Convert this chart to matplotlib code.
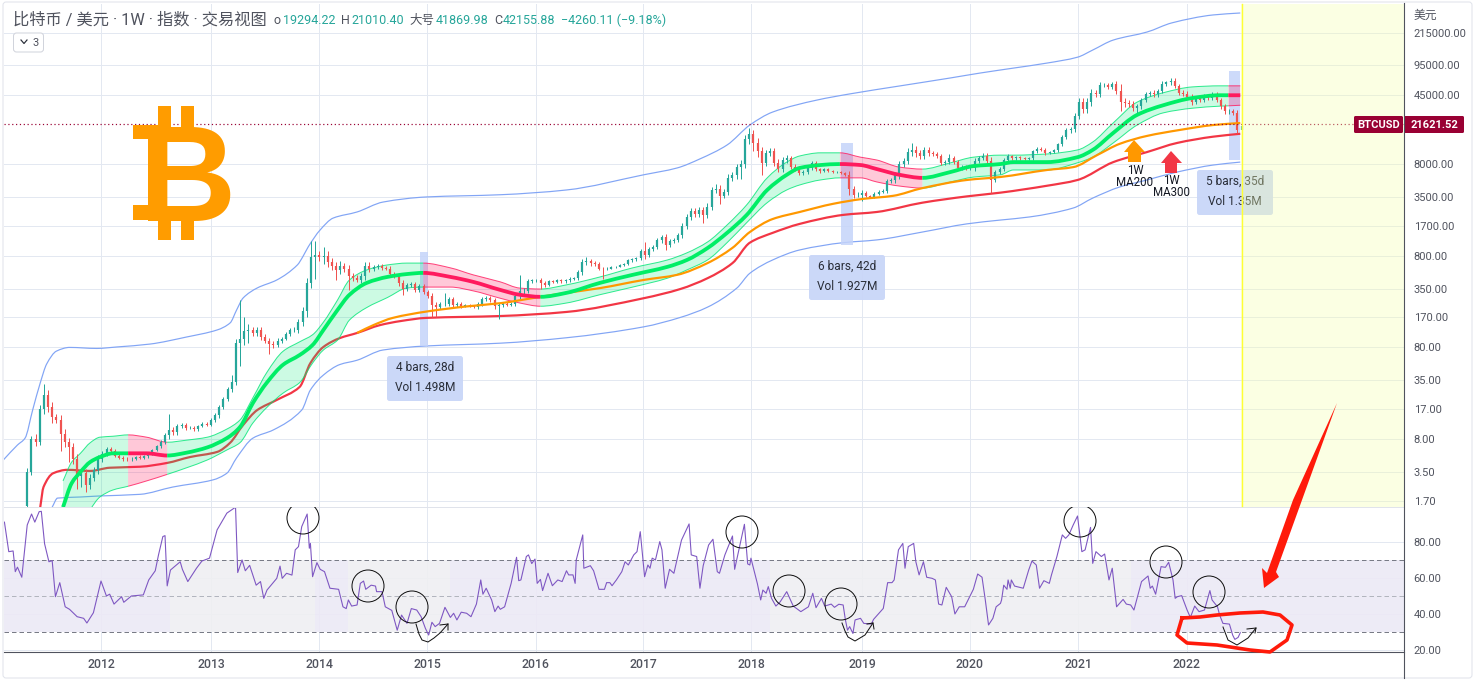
import numpy as np
import matplotlib
matplotlib.use("Agg")
import matplotlib.pyplot as plt
from matplotlib.patches import Rectangle, Polygon, Circle, FancyBboxPatch, PathPatch
from matplotlib.path import Path
from matplotlib.ticker import NullLocator

# ---------- data: candles, one every two weeks from 2011.32 ----------
candle_start = 2011.32
candle_step = 1 / 26
close_2011 = [3.5, 8, 7.5, 17, 24, 18, 14, 13, 9, 7.5, 6.5, 4.8, 3.2, 3.4, 2.5, 3, 3.7, 4.9]
close_2012 = [5.5, 6.2, 6.0, 5.3, 5.0, 4.9, 4.8, 4.9, 5.1, 5.0, 5.2, 5.6, 6.1, 6.7, 7.5, 8.8, 10, 9.5, 11, 11.5, 10.5, 10.7, 10.2, 11.2, 11.8, 11.5]
close_2013 = [13, 14.5, 18, 22, 28, 34, 90, 100, 120, 125, 115, 125, 105, 95, 88, 85, 95, 100, 112, 125, 125, 150, 200, 400, 780, 820]
close_2014 = [780, 800, 680, 620, 560, 620, 580, 480, 460, 440, 480, 620, 580, 600, 620, 590, 580, 510, 480, 400, 350, 380, 390, 340, 370, 320]
close_2015 = [290, 230, 220, 240, 240, 270, 230, 240, 225, 230, 225, 220, 240, 270, 280, 260, 225, 230, 240, 235, 240, 290, 330, 330, 420, 430]
close_2016 = [430, 400, 385, 420, 415, 430, 420, 430, 450, 460, 530, 680, 700, 660, 650, 580, 570, 580, 600, 610, 640, 650, 710, 730, 760, 900]
close_2017 = [820, 950, 1000, 1180, 1270, 1050, 1150, 1200, 1350, 1700, 2100, 2450, 2300, 2500, 2250, 2700, 4200, 4300, 3600, 4000, 5700, 6000, 7400, 8000, 15000, 17000]
close_2018 = [13500, 11000, 8200, 10500, 11000, 8300, 7000, 8900, 9300, 7500, 7100, 6400, 6500, 7300, 8200, 7000, 6700, 7000, 6700, 6500, 6600, 6400, 6100, 4300, 3700, 3700]
close_2019 = [3900, 3600, 3500, 3800, 4000, 4100, 5200, 5300, 6000, 8000, 8700, 10800, 11500, 10500, 9800, 11500, 10500, 10200, 9700, 8200, 8400, 9300, 8400, 7300, 7500, 7200]
close_2020 = [7200, 8700, 9300, 9900, 8600, 5400, 6500, 7100, 8800, 9700, 9300, 9500, 9200, 9100, 9300, 11000, 11800, 11500, 10500, 10800, 11300, 13200, 15700, 18700, 19200, 27000]
close_2021 = [38000, 32000, 38000, 48000, 47000, 58000, 58000, 56000, 59000, 50000, 38000, 37000, 36000, 33000, 34000, 40000, 46000, 48000, 46000, 50000, 60000, 62000, 65000, 57000, 48000, 47000]
close_2022 = [43000, 38000, 42000, 40000, 44000, 42000, 46000, 40000, 34000, 30000, 30000, 29000, 19000, 21000]
first_open = 1.5
# usual wick length of each candle, percent beyond its body
wick_pct_2011 = [10, 8, 12, 10, 10, 15, 12, 8, 12, 15, 10, 12, 15, 10, 12, 10, 8, 10]
wick_pct_2012 = [8, 6, 6, 5, 4, 5, 4, 3, 3, 4, 3, 4, 3, 3, 5, 6, 10, 8, 6, 5, 4, 3, 3, 3, 4, 4]
wick_pct_2013 = [4, 5, 6, 6, 6, 8, 10, 12, 10, 10, 8, 8, 8, 6, 8, 8, 6, 5, 5, 5, 6, 8, 10, 15, 12, 12]
wick_pct_2014 = [10, 10, 12, 10, 10, 12, 8, 10, 8, 6, 8, 10, 8, 6, 5, 5, 4, 6, 5, 6, 8, 6, 5, 6, 5, 5]
wick_pct_2015 = [6, 8, 8, 5, 5, 6, 5, 4, 4, 3, 3, 3, 4, 5, 5, 4, 6, 5, 3, 3, 4, 6, 10, 7, 6, 5]
wick_pct_2016 = [5, 6, 5, 4, 3, 3, 3, 3, 3, 3, 6, 8, 7, 6, 5, 5, 5, 3, 2, 2, 2, 3, 3, 3, 3, 5]
wick_pct_2017 = [10, 5, 5, 6, 6, 8, 5, 5, 6, 8, 8, 8, 8, 8, 10, 10, 8, 8, 10, 6, 8, 8, 8, 12, 10, 12]
wick_pct_2018 = [10, 15, 12, 8, 8, 10, 8, 8, 8, 6, 6, 6, 5, 5, 6, 4, 4, 3, 3, 3, 3, 2, 3, 10, 8, 6]
wick_pct_2019 = [4, 3, 3, 3, 3, 3, 6, 5, 6, 8, 8, 10, 10, 10, 8, 8, 6, 5, 5, 5, 5, 5, 5, 6, 5, 5]
wick_pct_2020 = [4, 6, 5, 5, 6, 12, 7, 5, 6, 6, 4, 4, 3, 3, 3, 4, 3, 3, 4, 3, 3, 4, 5, 5, 6, 8]
wick_pct_2021 = [10, 10, 10, 10, 8, 8, 6, 6, 6, 8, 10, 10, 8, 8, 6, 6, 5, 5, 6, 6, 6, 5, 6, 6, 6, 6]
wick_pct_2022 = [6, 8, 5, 5, 5, 6, 5, 5, 6, 6, 6, 6, 8, 6]
# candles whose wicks stand out, by candle number
wick_high = {0: 3.6, 1: 8.5, 2: 9, 3: 19, 4: 32, 5: 24, 6: 17, 7: 15, 8: 13, 9: 9, 10: 8, 11: 7, 12: 5,
             34: 15, 49: 40, 51: 266, 52: 170, 53: 145, 68: 1150, 69: 1170, 71: 1000, 82: 680,
             97: 300, 100: 310, 118: 490, 134: 780, 148: 1130, 152: 1340, 165: 4900, 170: 7800, 173: 20000,
             174: 19000, 178: 11700, 182: 10000, 200: 4200, 212: 13700, 221: 10400, 229: 10500, 231: 9200,
             252: 42000, 262: 60000, 290: 30000}
wick_low = {0: 1.4, 1: 3.3, 3: 7, 4: 15, 6: 12, 8: 6, 10: 4.5, 12: 2.3, 13: 2.4, 14: 2.1, 34: 8,
            50: 47, 51: 50, 52: 85, 53: 90, 58: 67, 68: 380, 69: 450, 71: 650, 74: 430, 77: 340, 90: 300,
            97: 170, 98: 170, 113: 165, 123: 350, 138: 450, 148: 750, 153: 930, 162: 1800, 166: 2900, 171: 5500,
            174: 11000, 176: 6000, 180: 6500, 197: 3700, 200: 3200, 231: 3850, 252: 28000, 262: 30000, 266: 29000,
            290: 17600}

# ---------- data: moving average and its band ----------
band_years = [2011.65, 2011.73, 2011.81, 2011.90, 2011.99, 2012.11, 2012.25, 2012.42, 2012.61, 2012.79, 2012.98,
              2013.16, 2013.28, 2013.40, 2013.53, 2013.68, 2013.83, 2013.95, 2014.05, 2014.18, 2014.29, 2014.45,
              2014.64, 2014.82, 2014.97, 2015.22, 2015.43, 2015.68, 2015.86, 2016.05, 2016.29, 2016.60, 2016.90,
              2017.22, 2017.40, 2017.59, 2017.77, 2017.95, 2018.14, 2018.32, 2018.44, 2018.63, 2018.81, 2019.00,
              2019.15, 2019.36, 2019.57, 2019.83, 2020.04, 2020.29, 2020.41, 2020.72, 2021.00, 2021.14, 2021.33,
              2021.55, 2021.79, 2022.06, 2022.31, 2022.39, 2022.50]
ma_center = [1.45, 2.65, 3.5, 4.5, 5.1, 5.6, 5.6, 5.6, 5.3, 5.7, 6.5, 8.2, 10.8, 19.8, 33.2, 52, 66, 85, 124, 205, 300,
             405, 470, 505, 520, 470, 415, 339, 300, 285, 315, 405, 495, 605, 719, 970, 1420, 2220, 4170, 6100, 7250,
             7800, 8000, 7800, 7050, 6100, 5650, 6550, 7600, 8000, 8400, 8400, 9500, 11400, 17500, 27500, 35000, 42000,
             45000, 45000, 45000]
ma_upper = [2.8, 4.5, 5.6, 7.3, 8.4, 8.6, 8.9, 8.4, 7.4, 7.8, 8.4, 10.3, 12.9, 22.6, 43, 73, 92, 110, 151, 263, 435,
            560, 635, 665, 665, 590, 495, 415, 355, 347, 385, 470, 590, 719, 860, 1130, 1730, 2860, 5650, 8400, 9800,
            10600, 10600, 9500, 8850, 7400, 7050, 8250, 9500, 10000, 10000, 10300, 11400, 13900, 22500, 37900, 47900,
            55500, 57000, 57000, 57000]
ma_lower = [0.4, 0.56, 0.8, 1.35, 1.87, 2.23, 2.45, 2.8, 3.3, 3.9, 4.74, 6.09, 7.3, 12, 17.8, 25.5, 33, 54, 75, 96, 159,
            218, 280, 355, 364, 364, 331, 275, 244, 225, 244, 301, 364, 455, 560, 719, 1110, 1830, 3030, 4170, 4730,
            5360, 5650, 5650, 5100, 4600, 4370, 5100, 5760, 6100, 6890, 6890, 8250, 9500, 13600, 21300, 28900, 32500,
            34200, 34500, 35000]
bear_edges = [2012.25, 2012.61, 2014.97, 2016.05, 2018.81, 2019.57, 2022.39]

# ---------- data: long moving averages and outer envelopes ----------
ma200_years = [2014.36, 2014.51, 2014.69, 2015.00, 2015.37, 2015.68, 2016.05, 2016.29, 2016.60, 2017.00, 2017.31, 2017.59,
               2017.82, 2017.98, 2018.19, 2018.44, 2018.75, 2019.02, 2019.30, 2019.57, 2019.98, 2020.29, 2020.72, 2020.96,
               2021.18, 2021.39, 2021.64, 2021.94, 2022.25, 2022.50]
ma200_vals = [115, 140, 168, 197, 224, 243, 285, 315, 355, 435, 495, 665, 975, 1450, 2010, 2400, 2950, 3330, 3600, 4370,
              5360, 5780, 6890, 7400, 10000, 13300, 16200, 18800, 21300, 22400]
ma300_years = [2011.44, 2011.47, 2011.56, 2011.69, 2011.90, 2012.08, 2012.36, 2012.61, 2012.82, 2013.07, 2013.19, 2013.31,
               2013.44, 2013.62, 2013.83, 2013.93, 2014.05, 2014.20, 2014.36, 2014.57, 2014.76, 2015.00, 2015.68, 2016.29,
               2017.00, 2017.34, 2017.59, 2017.82, 2017.98, 2018.19, 2018.44, 2018.84, 2019.15, 2019.57, 2019.98, 2020.29,
               2020.72, 2021.00, 2021.33, 2021.64, 2021.92, 2022.25, 2022.50]
ma300_vals = [1.45, 2.4, 3.4, 3.7, 3.6, 3.9, 4.0, 4.4, 5.1, 5.8, 7.3, 11.4, 16.6, 21.4, 29.6, 54, 81, 101, 115, 140, 155,
              168, 176, 195, 275, 347, 455, 665, 1110, 1420, 1780, 2230, 2400, 3030, 3550, 3900, 4640, 5360, 8400, 10800,
              13600, 15900, 17100]
env_up_years = [2011.10, 2011.23, 2011.30, 2011.37, 2011.44, 2011.50, 2011.59, 2011.71, 2011.96, 2012.15, 2012.45, 2012.79,
                2013.07, 2013.19, 2013.25, 2013.31, 2013.44, 2013.62, 2013.81, 2013.86, 2013.91, 2014.02, 2014.14, 2014.36,
                2014.60, 2015.00, 2015.68, 2016.29, 2017.00, 2017.31, 2017.52, 2017.77, 2017.98, 2018.19, 2018.60, 2018.90,
                2019.36, 2019.83, 2020.10, 2020.41, 2020.72, 2021.00, 2021.14, 2021.33, 2021.64, 2021.87, 2022.25, 2022.50]
env_up_vals = [4.74, 6.9, 8.2, 16.6, 32.8, 53, 73, 80, 78, 81, 87, 104, 124, 148, 205, 277, 356, 435, 635, 780, 1000, 1530,
               2060, 2400, 3080, 3500, 3700, 4170, 6100, 7250, 9100, 12900, 21300, 29500, 39900, 46500, 56800, 69500, 78500,
               89000, 101000, 117000, 140000, 180000, 220000, 277000, 338000, 355000]
env_lo_years = [2011.55, 2011.60, 2011.81, 2011.99, 2012.36, 2012.66, 2013.03, 2013.16, 2013.25, 2013.40, 2013.59, 2013.85,
                2013.93, 2014.05, 2014.20, 2014.36, 2014.60, 2015.00, 2015.68, 2016.29, 2017.00, 2017.34, 2017.59, 2017.86,
                2017.98, 2018.19, 2018.44, 2018.84, 2019.15, 2019.57, 2019.98, 2020.29, 2020.56, 2020.96, 2021.14, 2021.39,
                2021.64, 2021.92, 2022.25, 2022.50]
env_lo_vals = [1.45, 1.82, 1.87, 1.92, 2.0, 2.4, 2.87, 3.4, 5.0, 8.2, 10.1, 16.6, 27.5, 40, 52, 58, 75, 83, 89, 102, 134, 170,
               220, 355, 515, 719, 925, 1110, 1190, 1450, 1780, 1960, 2120, 2650, 3400, 4500, 5360, 6550, 7800, 8400]

# ---------- data: RSI ----------
rsi_years_a = [2011.11, 2011.15, 2011.19, 2011.21, 2011.23, 2011.27, 2011.32, 2011.36, 2011.39, 2011.43, 2011.45, 2011.48, 2011.52, 2011.55, 2011.58, 2011.62, 2011.67, 2011.71, 2011.78, 2011.84, 2011.87, 2011.93, 2012.00, 2012.05, 2012.08, 2012.12, 2012.19, 2012.21, 2012.28, 2012.39, 2012.44, 2012.50, 2012.53, 2012.57, 2012.59, 2012.61, 2012.64, 2012.73, 2012.75, 2012.80, 2012.88, 2012.93, 2013.00, 2013.07, 2013.16, 2013.24, 2013.26, 2013.30, 2013.33, 2013.37, 2013.43, 2013.47, 2013.50, 2013.53, 2013.62, 2013.65, 2013.67, 2013.71, 2013.76, 2013.79, 2013.82, 2013.85, 2013.90, 2013.92, 2013.93, 2013.95, 2013.99, 2014.02, 2014.06, 2014.11, 2014.19, 2014.23, 2014.26, 2014.28, 2014.31, 2014.36, 2014.39, 2014.42, 2014.44, 2014.49, 2014.53, 2014.54, 2014.59, 2014.62, 2014.68, 2014.73, 2014.77, 2014.82, 2014.86, 2014.91, 2014.95, 2014.99, 2015.02, 2015.05, 2015.08, 2015.12, 2015.17, 2015.22, 2015.25, 2015.28, 2015.32, 2015.37, 2015.41, 2015.46, 2015.50, 2015.52, 2015.55, 2015.60, 2015.63, 2015.66]
rsi_vals_a = [91, 74.6, 75, 63.5, 66, 60.4, 89.4, 95.5, 91, 96.8, 97, 79, 69, 69.6, 49.6, 57.4, 44, 42.6, 38.5, 37.6, 35, 40.7, 58.3, 50, 51, 45.5, 49.6, 46.5, 50, 50.6, 58.9, 64, 72.8, 83, 83.5, 55.6, 64.4, 69, 64.8, 58, 65.4, 69.4, 71, 86.7, 96, 99.3, 63, 70, 64, 67, 56, 58, 48.7, 53.3, 59.8, 66.6, 59.8, 62.6, 61.6, 75.6, 77.4, 88.5, 95.5, 76.5, 79.2, 60.7, 68.5, 64.8, 63.5, 54.3, 53.7, 44, 43, 47.8, 44.4, 45, 57, 58.3, 53.7, 56, 55.5, 52.4, 52.4, 44, 42, 31, 39.4, 34.8, 43, 42.2, 38.5, 32, 28.3, 35.4, 33, 34.8, 43.7, 38.1, 40.4, 36.7, 41, 40.4, 38.5, 45.5, 58.9, 51, 54.3, 47.8, 41.3, 44.4]
rsi_years_b = [2015.68, 2015.72, 2015.78, 2015.83, 2015.85, 2015.87, 2015.92, 2015.94, 2015.97, 2016.00, 2016.02, 2016.05, 2016.07, 2016.12, 2016.16, 2016.21, 2016.25, 2016.29, 2016.31, 2016.35, 2016.37, 2016.38, 2016.44, 2016.45, 2016.51, 2016.54, 2016.59, 2016.64, 2016.66, 2016.69, 2016.71, 2016.75, 2016.80, 2016.83, 2016.86, 2016.91, 2016.94, 2016.97, 2017.01, 2017.04, 2017.06, 2017.08, 2017.11, 2017.15, 2017.17, 2017.20, 2017.24, 2017.28, 2017.35, 2017.42, 2017.44, 2017.49, 2017.52, 2017.55, 2017.60, 2017.64, 2017.68, 2017.70, 2017.75, 2017.82, 2017.84, 2017.93, 2017.96, 2017.98, 2017.99, 2018.05, 2018.08, 2018.10, 2018.13, 2018.15, 2018.18, 2018.22, 2018.26, 2018.32, 2018.38, 2018.45, 2018.52, 2018.56, 2018.59, 2018.64, 2018.67, 2018.73, 2018.76, 2018.80, 2018.84, 2018.86, 2018.88, 2018.90, 2018.93, 2018.95, 2019.00, 2019.03, 2019.10, 2019.12, 2019.21, 2019.25, 2019.29, 2019.31, 2019.35, 2019.39, 2019.41, 2019.44, 2019.49, 2019.51, 2019.54, 2019.58, 2019.61, 2019.66, 2019.69, 2019.72, 2019.75, 2019.79, 2019.84, 2019.87, 2019.91, 2019.96, 2020.04, 2020.08, 2020.12, 2020.15, 2020.18, 2020.22, 2020.25, 2020.29]
rsi_vals_b = [42.6, 44, 57, 71.5, 58.5, 58.9, 71.9, 72.8, 68, 70.5, 57, 59.2, 53, 62.6, 55.7, 58.9, 58, 64, 61.7, 61.7, 57, 70, 83.9, 65.4, 66.8, 64, 53.7, 53.7, 57.4, 57.4, 55.7, 58.9, 63.5, 69, 67.2, 72.8, 74.6, 85.7, 60.7, 67.2, 65.4, 71, 70, 80.2, 75.6, 54.3, 64.8, 62.6, 81, 90, 72.8, 71.9, 54.3, 66.8, 78.3, 81.5, 63.5, 62.6, 72.8, 83.3, 64.8, 89.8, 67.8, 67.2, 71, 56.7, 47.8, 53.3, 51.5, 55.2, 48.7, 44.4, 46.8, 52.4, 44.4, 41.3, 44, 51.5, 43.5, 48.7, 44.4, 45.5, 43.7, 45.4, 45, 37, 31, 33, 29.2, 36.7, 37.6, 34.8, 34.4, 37, 43.1, 57.4, 57.4, 58.9, 75.6, 79.2, 65.4, 77.4, 79.2, 69, 61.7, 69, 60.4, 59.8, 58.9, 45.5, 45, 54.8, 49.6, 40, 44, 44, 53.7, 62.2, 60.4, 47.8, 33.9, 37.6, 44, 45.9]
rsi_years_c = [2020.30, 2020.32, 2020.35, 2020.36, 2020.38, 2020.39, 2020.42, 2020.50, 2020.55, 2020.58, 2020.62, 2020.65, 2020.69, 2020.74, 2020.76, 2020.81, 2020.86, 2020.89, 2020.92, 2020.96, 2021.00, 2021.04, 2021.07, 2021.12, 2021.14, 2021.17, 2021.22, 2021.25, 2021.29, 2021.32, 2021.36, 2021.42, 2021.45, 2021.49, 2021.52, 2021.59, 2021.65, 2021.67, 2021.69, 2021.72, 2021.77, 2021.81, 2021.84, 2021.88, 2021.90, 2021.92, 2021.96, 2022.01, 2022.04, 2022.08, 2022.12, 2022.17, 2022.22, 2022.24, 2022.29, 2022.31, 2022.34, 2022.40, 2022.43, 2022.45, 2022.48, 2022.50]
rsi_vals_c = [47.8, 56, 53.7, 58.9, 54.3, 58.9, 55.5, 54.3, 64.4, 69.4, 67.2, 54.3, 58.5, 57, 61.7, 71.9, 83.9, 82, 83.9, 89.4, 94.4, 74.6, 75.6, 88.1, 68.1, 74.6, 71.9, 73.3, 58.9, 65.4, 44, 48.1, 45.5, 45, 42.2, 58, 61.1, 54.3, 55.5, 51, 66.3, 65.9, 68.7, 58.9, 48.7, 49.6, 50.2, 42.2, 38.1, 44.4, 41.3, 42.2, 53, 47.8, 44, 39.4, 34.8, 34.4, 28.3, 25.9, 27, 29.6]
rsi_zone_edges = [2011.11, 2012.64, 2013.97, 2014.28, 2015.22, 2018.17, 2021.49, 2024.01]

# ---------- data: ticks and labels ----------
price_ticks = [215000, 95000, 45000, 8000, 3500, 1700, 800, 350, 170, 80, 35, 17, 8, 3.5, 1.7]
rsi_ticks = [80, 60, 40, 20]
year_labels = ["2012", "2013", "2014", "2015", "2016", "2017", "2018", "2019", "2020", "2021", "2022"]
year_positions = [2012.0, 2013.014, 2014.009, 2015.009, 2016.005, 2016.995, 2017.991, 2019.014, 2020.009, 2021.009, 2022.005]
last_price = 21621.52
measures = [(2014.94, 2015.01, 82, 880), (2018.82, 2018.93, 1050, 13600), (2022.40, 2022.50, 8850, 82000)]
measure_text = [("4 bars, 28d", "Vol 1.498M"), ("6 bars, 42d", "Vol 1.927M"), ("5 bars, 35d", "Vol 1.35M")]

# ---------- style ----------
W, H = 1475, 682
GRID = "#e3e8f1"
TXT = "#50535e"
UP, DOWN = "#26a69a", "#ef5350"
GREEN, PINK = "#00e676", "#ff1a5e"
LINE_GREEN = "#00ee66"
FONT = ["Roboto", "Noto Sans CJK SC", "DejaVu Sans"]
plt.rcParams["font.family"] = FONT


def px(v):
    return v * 0.72


def slopes(xs, lg):
    # tangent at each reading, used only to round the corners of the drawn path
    m = np.zeros(len(xs))
    d = np.diff(lg) / np.diff(xs)
    for i in range(1, len(xs) - 1):
        if d[i - 1] * d[i] > 0:
            m[i] = 2 / (1 / d[i - 1] + 1 / d[i])
    m[0], m[-1] = d[0], d[-1]
    return m


def curve(xs, vals, i0=0, i1=None):
    # a Bezier path through the readings i0..i1, in (year, price) coordinates
    xs = np.asarray(xs, float)
    lg = np.log10(np.asarray(vals, float))
    m = slopes(xs, lg)
    i1 = len(xs) - 1 if i1 is None else i1
    v, c = [(xs[i0], vals[i0])], [Path.MOVETO]
    for i in range(i0, i1):
        h = (xs[i + 1] - xs[i]) / 3
        v += [(xs[i] + h, 10 ** (lg[i] + m[i] * h)), (xs[i + 1] - h, 10 ** (lg[i + 1] - m[i + 1] * h)),
              (xs[i + 1], vals[i + 1])]
        c += [Path.CURVE4] * 3
    return v, c


def draw_curve(target, xs, vals, color, lw, z, i0=0, i1=None, alpha=1.0):
    v, c = curve(xs, vals, i0, i1)
    target.add_patch(PathPatch(Path(v, c), fc="none", ec=color, lw=lw, zorder=z, alpha=alpha, capstyle="butt"))


fig = plt.figure(figsize=(W / 100, H / 100), dpi=100, facecolor="white")
ax = fig.add_axes([4 / W, 1 - 507 / H, 1400 / W, 503 / H])
rs = fig.add_axes([4 / W, 1 - 652 / H, 1400 / W, 145 / H])
ov = fig.add_axes([0, 0, 1, 1], facecolor="none", zorder=10)
ov.set_xlim(0, W)
ov.set_ylim(H, 0)
ov.axis("off")

x0, x1 = 2011.106, 2024.009

# ---------- price pane ----------
ax.set_yscale("log")
ax.set_xlim(x0, x1)
ax.set_ylim(1.455, 444900)
ax.yaxis.set_minor_locator(NullLocator())
ax.yaxis.tick_right()
ax.set_yticks(price_ticks)
ax.set_yticklabels([f"{p:.2f}" for p in price_ticks], fontsize=8, color=TXT)
ax.set_xticks(year_positions)
ax.set_xticklabels([])
ax.tick_params(axis="both", length=0, pad=7)
ax.grid(True, color=GRID, lw=px(1))
ax.set_axisbelow(True)
for s in ax.spines.values():
    s.set_visible(False)

for a, b, lo, hi in measures:
    ax.fill_betweenx([lo, hi], a, b, color="#c5d4fa", alpha=0.85, lw=0, zorder=2.8)

draw_curve(ax, env_up_years, env_up_vals, "#82a5f5", px(1.2), 2)
draw_curve(ax, env_lo_years, env_lo_vals, "#82a5f5", px(1.2), 2)
draw_curve(ax, ma300_years, ma300_vals, "#f23645", px(2.2), 2.9)

by = np.array(band_years)
edges = [by[0]] + bear_edges + [by[-1]]
spans = [(int(np.argmin(abs(by - edges[k]))), int(np.argmin(abs(by - edges[k + 1])))) for k in range(len(edges) - 1)]
for k, (a, b) in enumerate(spans):
    col = GREEN if k % 2 == 0 else PINK
    vu, cu = curve(band_years, ma_upper, a, b)
    vl, cl = curve(band_years, ma_lower, a, b)
    # walk the lower edge backwards to close the band
    vl_rev, cl_rev = vl[::-1], [Path.LINETO] + [Path.CURVE4] * (len(vl) - 1)
    ax.add_patch(PathPatch(Path(vu + vl_rev + [vu[0]], cu + cl_rev + [Path.LINETO]), fc=col, ec="none", lw=0,
                           alpha=0.2 if k % 2 == 0 else 0.24, zorder=3))
    draw_curve(ax, band_years, ma_upper, col, px(1), 3.1, a, b, alpha=0.8)
    draw_curve(ax, band_years, ma_lower, col, px(1), 3.1, a, b, alpha=0.8)

closes = np.array(close_2011 + close_2012 + close_2013 + close_2014 + close_2015 + close_2016
                  + close_2017 + close_2018 + close_2019 + close_2020 + close_2021 + close_2022, dtype=float)
wick_pct = np.array(wick_pct_2011 + wick_pct_2012 + wick_pct_2013 + wick_pct_2014 + wick_pct_2015 + wick_pct_2016
                    + wick_pct_2017 + wick_pct_2018 + wick_pct_2019 + wick_pct_2020 + wick_pct_2021 + wick_pct_2022,
                    dtype=float)
opens = np.r_[first_open, closes[:-1]]
dates = candle_start + np.arange(len(closes)) * candle_step
highs = np.maximum(opens, closes) * (1 + wick_pct / 100)
lows = np.minimum(opens, closes) / (1 + wick_pct / 100)
for i, v in wick_high.items():
    highs[i] = max(highs[i], v)
for i, v in wick_low.items():
    lows[i] = min(lows[i], v)
cols = [UP if c >= o else DOWN for o, c in zip(opens, closes)]
ax.vlines(dates, lows, highs, colors=cols, lw=px(1), zorder=3.4)
ax.vlines(dates, np.minimum(opens, closes), np.maximum(opens, closes), colors=cols, lw=px(2.2), zorder=3.5)

draw_curve(ax, ma200_years, ma200_vals, "#ff9800", px(2.2), 3.6)
for k, (a, b) in enumerate(spans):
    draw_curve(ax, band_years, ma_center, LINE_GREEN if k % 2 == 0 else PINK, px(3.8), 4, a, b)

ax.axhline(last_price, color="#990033", lw=px(1.2), ls=(0, (1, 2.2)), zorder=5)

# ---------- RSI pane ----------
rs.set_xlim(x0, x1)
rs.set_ylim(18.9, 99.4)
rs.yaxis.tick_right()
rs.set_yticks(rsi_ticks)
rs.set_yticklabels([f"{v:.2f}" for v in rsi_ticks], fontsize=8, color=TXT)
rs.set_xticks(year_positions)
rs.set_xticklabels(year_labels, fontsize=8.8, color=TXT, fontweight="medium")
rs.tick_params(axis="y", length=0, pad=7)
rs.tick_params(axis="x", length=0, pad=4)
rs.grid(True, color=GRID, lw=px(1))
rs.set_axisbelow(True)
for s in rs.spines.values():
    s.set_visible(False)
for k in range(len(rsi_zone_edges) - 1):
    rs.fill_between([rsi_zone_edges[k], rsi_zone_edges[k + 1]], 30, 70,
                    color="#ece9f6" if k % 2 == 0 else "#efeff2", alpha=0.9, lw=0, zorder=1)
rs.axhline(70, color="#787b86", lw=px(1), ls=(0, (4.5, 3)), zorder=2)
rs.axhline(30, color="#787b86", lw=px(1), ls=(0, (4.5, 3)), zorder=2)
rs.axhline(50, color="#b2b5be", lw=px(1), ls=(0, (4.5, 3)), zorder=2)
rs.plot(rsi_years_a + rsi_years_b + rsi_years_c, rsi_vals_a + rsi_vals_b + rsi_vals_c,
        color="#7e57c2", lw=px(1.1), zorder=3)

# ---------- overlay: measure boxes ----------
for (cx, cy), (t1, t2) in zip([(425, 378.5), (847, 277.5), (1235, 192.5)], measure_text):
    ov.add_patch(FancyBboxPatch((cx - 38, cy - 22.5), 76, 45, boxstyle="round,pad=0,rounding_size=2.5",
                                fc="#c9d6f8", ec="none", lw=0, alpha=0.95, zorder=2))
    ov.text(cx, cy - 11, t1, ha="center", va="center", fontsize=8.6, color="#2a2e39", zorder=3)
    ov.text(cx, cy + 9, t2, ha="center", va="center", fontsize=8.6, color="#2a2e39", zorder=3)

# ---------- overlay: forecast area ----------
ov.add_patch(Rectangle((1241, 4), 163, 503, fc="#f5ffb0", ec="none", alpha=0.35, zorder=4))
ov.plot([1242, 1242], [4, 506], color="#ffff33", lw=px(1.4), zorder=4.5)

# ---------- overlay: header ----------
ov.text(13, 20, "比特币 / 美元 · 1W · 指数 · 交易视图", fontsize=11.7, color=TXT, va="center", zorder=6)
for tx, s, c in [(274, "o", TXT), (283, "19294.22", UP), (341, "H", TXT), (351, "21010.40", UP),
                 (409, "大号", TXT), (436, "41869.98", UP), (494, "C", TXT), (503, "42155.88", UP),
                 (561, "−4260.11 (−9.18%)", UP)]:
    ov.text(tx, 20, s, fontsize=9, color=c, va="center", zorder=6)
ov.add_patch(FancyBboxPatch((13.5, 33), 30, 19, boxstyle="round,pad=0,rounding_size=3", fc="white", ec="#d1d4dc",
                            lw=px(1), zorder=6))
ov.plot([21, 24, 27], [40, 43.5, 40], color="#2a2e39", lw=px(1.2), zorder=7)
ov.text(36, 42.5, "3", fontsize=8, color=TXT, ha="center", va="center", zorder=7)

# ---------- overlay: Bitcoin logo ----------
ORANGE = "#ff9c00"
ov.text(188, 172, "B", fontsize=97, fontweight="bold", family="Liberation Sans", color=ORANGE,
        ha="center", va="center_baseline", zorder=5)
for rx, ry, rw, rh in [(158, 106, 13, 22), (181, 106, 13, 22), (158, 217, 13, 23), (181, 217, 13, 23),
                       (133, 125, 25, 14), (133, 205, 25, 15)]:
    ov.add_patch(Rectangle((rx, ry), rw, rh, fc=ORANGE, ec="none", zorder=5))

# ---------- overlay: MA arrows ----------
ov.add_patch(Polygon([(1134, 140), (1145, 152), (1141, 152), (1141, 162), (1128, 162), (1128, 152), (1124, 152)],
                     fc="#ff9800", ec="none", zorder=5))
ov.add_patch(Polygon([(1171, 151), (1182, 163), (1177, 163), (1177, 173), (1165, 173), (1165, 163), (1161, 163)],
                     fc="#f23645", ec="none", zorder=5))
for tx, ty, s in [(1135, 170, "1W"), (1135, 182, "MA200"), (1171, 181, "1W"), (1171, 193, "MA300")]:
    ov.text(tx, ty, s, fontsize=8.3, color="#131722", ha="center", va="center", zorder=5)

# ---------- overlay: last price tags ----------
ov.add_patch(FancyBboxPatch((1354, 116), 49, 17, boxstyle="round,pad=0,rounding_size=1.5", fc="#990033", ec="none", zorder=6))
ov.add_patch(FancyBboxPatch((1404, 116), 60, 17, boxstyle="round,pad=0,rounding_size=1.5", fc="#990033", ec="none", zorder=6))
ov.text(1378.5, 125, "BTCUSD", fontsize=8, color="white", ha="center", va="center", fontweight="bold", zorder=7)
ov.text(1434, 125, "21621.52", fontsize=8, color="white", ha="center", va="center", fontweight="bold", zorder=7)
ov.text(1414, 15, "美元", fontsize=8.5, color=TXT, va="center", zorder=6)

# ---------- overlay: frame ----------
ov.add_patch(FancyBboxPatch((3, 2), 1469, 676, boxstyle="round,pad=0,rounding_size=3", fc="none", ec="#e0e3eb",
                            lw=px(1), zorder=1))
ov.plot([4, 1404], [506.5, 506.5], color="#e0e3eb", lw=px(1), zorder=1)
ov.plot([4, 1404], [652, 652], color="#50535e", lw=px(1.1), zorder=6)
ov.plot([1404, 1404], [3, 678], color="#50535e", lw=px(1.1), zorder=6)

# ---------- overlay: hand-drawn marks ----------
clip = Rectangle((4, 507), 1400, 145, transform=ov.transData)
for cx, cy in [(303, 518), (368, 586), (412, 607), (742, 532), (789, 591), (841, 604), (1080, 521), (1166, 562), (1209, 592)]:
    c = Circle((cx, cy), 16, fc="none", ec="#111111", lw=px(1), zorder=8)
    ov.add_patch(c)
    c.set_clip_path(clip)
for pts in [[(416, 624), (419, 634), (422, 640), (428, 642), (434, 638), (440, 633), (448, 624)],
            [(440, 625), (448, 624), (448, 630)],
            [(842, 623), (845, 631), (848, 637), (855, 641), (865, 635), (873, 623)],
            [(867, 624), (873, 623), (874, 629)],
            [(1223, 627), (1228, 640), (1237, 645), (1248, 638), (1256, 628)],
            [(1247, 629), (1256, 628), (1255, 633)]]:
    ov.plot(*zip(*pts), color="#111111", lw=px(1), zorder=8)
ov.add_patch(Polygon([(1337, 403), (1302, 500), (1276, 572), (1279, 577), (1264, 588), (1262, 568), (1267, 573),
                      (1293, 500)], fc="#ff1a0a", ec="none", zorder=9))
ov.plot(*zip(*[(1182, 618), (1200, 617), (1217, 615), (1240, 613), (1263, 612), (1280, 615), (1292, 625), (1287, 640),
               (1270, 652), (1250, 650), (1217, 645), (1187, 643), (1177, 635), (1182, 618)]),
        color="#ff1a0a", lw=px(3.6), zorder=9, solid_joinstyle="round")

fig.savefig("out.png", dpi=100)
